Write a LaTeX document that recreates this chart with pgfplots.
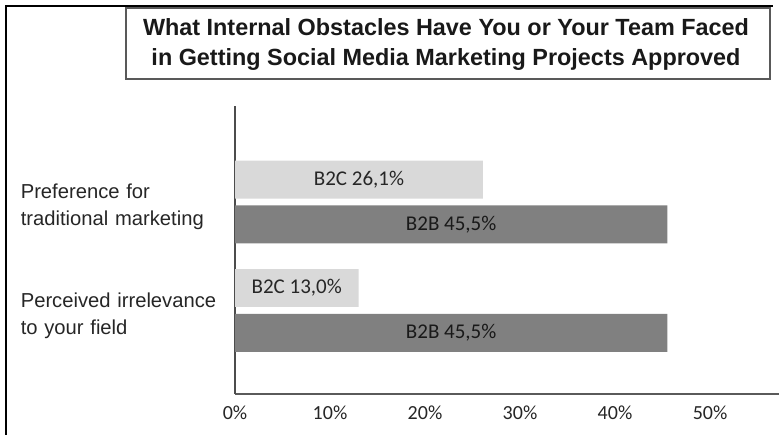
\documentclass[border=0pt]{standalone}
\usepackage{pgfplots}
\pgfplotsset{compat=1.18}
\usepackage{fontspec}
\setmainfont{Liberation Sans}
\newfontfamily\calibri{Carlito}
\definecolor{lightbar}{HTML}{D9D9D9}
\definecolor{darkbar}{HTML}{808080}
\definecolor{axisgray}{HTML}{5A5A5A}
\begin{document}
\begin{tikzpicture}[x=1pt,y=1pt]
\useasboundingbox (0,0) rectangle (779,435);
\begin{axis}[
  at={(235pt,41pt)}, anchor=south west, scale only axis,
  width=544pt, height=288pt,
  xmin=0, xmax=57.26, ymin=0.23, ymax=2.885,
  axis x line*=bottom, axis y line*=left,
  x axis line style={-, draw=axisgray, line width=2.2pt},
  y axis line style={-, draw=black!70, line width=1.3pt},
  xtick={0,10,20,30,40,50},
  xticklabels={0\%,10\%,20\%,30\%,40\%,50\%},
  ytick={1,2},
  yticklabels={Perceived irrelevance\\to your field, Preference for\\traditional marketing},
  major tick length=0pt,
  x tick label style={font=\calibri\fontsize{20}{24}\selectfont, text=black!85, yshift=-8pt},
  y tick label style={font=\fontsize{20.2}{27}\selectfont, text=black!85, align=left, text width=200pt, anchor=east, inner sep=0pt, xshift=-14pt, yshift=-5pt},
  xbar, bar width=0.35, bar shift=0pt,
  clip=false,
]
\addplot[fill=lightbar, draw=none] coordinates {(26.1,2.207) (13.0,1.207)};
\addplot[fill=darkbar, draw=none] coordinates {(45.5,1.793) (45.5,0.793)};
\node[font=\calibri\fontsize{21}{24}\selectfont, text=black!85] at (axis cs:13.05,2.207) {B2C 26,1\%};
\node[font=\calibri\fontsize{21}{24}\selectfont, text=black!85] at (axis cs:6.5,1.207) {B2C 13,0\%};
\node[font=\calibri\fontsize{21}{24}\selectfont, text=black!90] at (axis cs:22.75,1.793) {B2B 45,5\%};
\node[font=\calibri\fontsize{21}{24}\selectfont, text=black!90] at (axis cs:22.75,0.793) {B2B 45,5\%};
\end{axis}
\draw[line width=2pt] (6,0) -- (6,429) -- (773,429);
\draw[fill=white, draw=black!65, line width=1.3pt] (126,356) rectangle (770,427);
\node[anchor=base, font=\bfseries\fontsize{23.4}{30}\selectfont, text=black!90] at (446,399) {What Internal Obstacles Have You or Your Team Faced};
\node[anchor=base, font=\bfseries\fontsize{23.4}{30}\selectfont, text=black!90] at (446,369) {in Getting Social Media Marketing Projects Approved};
\end{tikzpicture}
\end{document}
